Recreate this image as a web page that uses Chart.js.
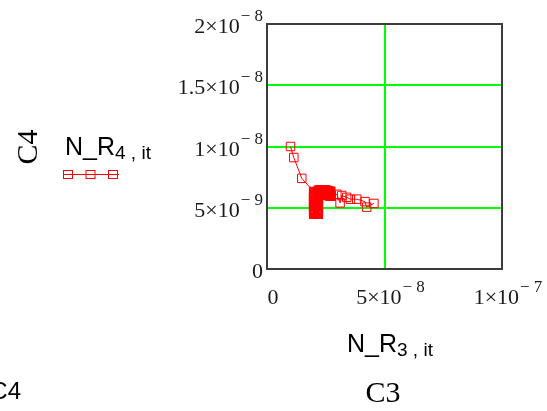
<!DOCTYPE html>
<html>
<head>
<meta charset="utf-8">
<script src="https://cdn.jsdelivr.net/npm/chart.js@4"></script>
<style>
  html, body { margin: 0; padding: 0; background: #fff; }
  canvas { display: block; }
</style>
</head>
<body>
<canvas id="plot" width="547" height="411"></canvas>
<script>
// iteration values N_R3,it (x) and N_R4,it (y)
const nr3 = [10.0e-9, 11.4e-9, 14.8e-9,
  20.0e-9, 21.7e-9, 21.7e-9, 20.0e-9, 20.0e-9, 21.7e-9, 21.7e-9, 20.0e-9, 20.0e-9, 21.7e-9,
  21.7e-9, 20.0e-9, 20.0e-9, 21.7e-9, 21.7e-9, 20.0e-9, 20.0e-9, 21.7e-9, 21.7e-9, 20.0e-9,
  20.0e-9, 21.7e-9, 21.7e-9, 20.0e-9, 20.0e-9, 21.7e-9, 21.7e-9, 20.0e-9, 20.0e-9, 21.7e-9,
  21.7e-9, 20.0e-9, 20.0e-9, 21.7e-9, 21.7e-9, 20.0e-9, 20.0e-9, 21.7e-9,
  22.0e-9, 22.5e-9, 23.0e-9, 23.5e-9, 24.0e-9, 24.5e-9, 25.0e-9, 25.5e-9, 26.0e-9, 26.5e-9, 27.0e-9,
  27.2e-9, 26.7e-9, 26.2e-9, 25.7e-9, 25.2e-9, 24.7e-9, 24.2e-9, 23.7e-9, 23.2e-9, 22.7e-9, 22.2e-9,
  29.7e-9, 31.1e-9, 31.8e-9, 33.9e-9, 35.5e-9, 38.2e-9, 41.7e-9, 42.4e-9, 45.5e-9];
const nr4 = [10.0e-9, 9.1e-9, 7.4e-9,
  6.3e-9, 6.3e-9, 6.2e-9, 6.2e-9, 6.1e-9, 6.1e-9, 6.0e-9, 6.0e-9, 5.9e-9, 5.9e-9,
  5.8e-9, 5.8e-9, 5.7e-9, 5.7e-9, 5.6e-9, 5.6e-9, 5.5e-9, 5.5e-9, 5.4e-9, 5.4e-9,
  5.3e-9, 5.3e-9, 5.2e-9, 5.2e-9, 5.1e-9, 5.1e-9, 5.0e-9, 5.0e-9, 4.9e-9, 4.9e-9,
  4.8e-9, 4.8e-9, 4.7e-9, 4.7e-9, 4.6e-9, 4.6e-9, 4.5e-9, 4.5e-9,
  6.4e-9, 6.42e-9, 6.45e-9, 6.45e-9, 6.44e-9, 6.42e-9, 6.4e-9, 6.38e-9, 6.35e-9, 6.32e-9, 6.3e-9,
  5.97e-9, 6.0e-9, 6.03e-9, 6.05e-9, 6.08e-9, 6.1e-9, 6.12e-9, 6.15e-9, 6.18e-9, 6.2e-9, 6.22e-9,
  6.1e-9, 5.4e-9, 6.0e-9, 5.85e-9, 5.7e-9, 5.7e-9, 5.5e-9, 5.05e-9, 5.35e-9];

const xTickValues = [0, 5e-8, 1e-7];
const xTickMant = ['0', '5×10', '1×10'];
const xTickExp = ['', '− 8', '− 7'];
const yTickValues = [0, 5e-9, 1e-8, 1.5e-8, 2e-8];
const yTickMant = ['0', '5×10', '1×10', '1.5×10', '2×10'];
const yTickExp = ['', '− 9', '− 8', '− 8', '− 8'];

const red = '#ff0000';
const green = '#00ff00';
const serif = '"Liberation Serif", "Times New Roman", serif';
const sans = '"Liberation Sans", Arial, sans-serif';

// mantissa with raised exponent, like Mathcad's 5×10^-8
function powWidth(ctx, mant, exp) {
  ctx.font = '22px ' + serif;
  let w = ctx.measureText(mant).width;
  if (exp) {
    ctx.font = '17px ' + serif;
    w += 1 + ctx.measureText(exp).width;
  }
  return w;
}
function drawPow(ctx, mant, exp, left, base) {
  ctx.textAlign = 'left';
  ctx.textBaseline = 'alphabetic';
  ctx.font = '22px ' + serif;
  ctx.fillText(mant, left, base);
  if (exp) {
    const mw = ctx.measureText(mant).width;
    ctx.font = '17px ' + serif;
    ctx.fillText(exp, left + mw + 1, base - 12);
  }
}
// N_R with subscript
function drawSub(ctx, main, sub, left, base) {
  ctx.textAlign = 'left';
  ctx.textBaseline = 'alphabetic';
  ctx.font = '25px ' + sans;
  ctx.fillText(main, left, base);
  const w = ctx.measureText(main).width;
  ctx.font = '19px ' + sans;
  ctx.fillText(sub, left + w, base + 4);
}

const mathcadText = {
  id: 'mathcadText',
  afterDraw(chart) {
    const ctx = chart.ctx;
    const xs = chart.scales.x, ys = chart.scales.y;
    const a = chart.chartArea;
    ctx.save();
    ctx.strokeStyle = '#3c3c3c';
    ctx.lineWidth = 2;
    ctx.strokeRect(a.left, a.top, a.right - a.left, a.bottom - a.top);

    ctx.fillStyle = '#1a1a1a';
    yTickValues.forEach((v, i) => {
      const py = ys.getPixelForValue(v);
      const w = powWidth(ctx, yTickMant[i], yTickExp[i]);
      drawPow(ctx, yTickMant[i], yTickExp[i], 263 - w, py + 9);
    });
    xTickValues.forEach((v, i) => {
      const px = xs.getPixelForValue(v);
      const w = powWidth(ctx, xTickMant[i], xTickExp[i]);
      drawPow(ctx, xTickMant[i], xTickExp[i], px + 6 - w / 2, 304);
    });

    ctx.fillStyle = '#000';
    drawSub(ctx, 'N_R', '3 , it', 347, 352);
    drawSub(ctx, 'N_R', '4 , it', 65, 155);

    ctx.font = '30px ' + serif;
    ctx.textAlign = 'center';
    ctx.textBaseline = 'alphabetic';
    ctx.fillText('C3', 383, 402);

    ctx.save();
    ctx.translate(37, 147);
    ctx.rotate(-Math.PI / 2);
    ctx.font = '30px ' + serif;
    ctx.fillText('C4', 0, 0);
    ctx.restore();

    ctx.font = '24px ' + sans;
    ctx.textAlign = 'right';
    ctx.fillText('C4', 21, 399);

    // legend sample
    ctx.strokeStyle = red;
    ctx.lineWidth = 1;
    ctx.beginPath();
    ctx.moveTo(63, 174.5);
    ctx.lineTo(119, 174.5);
    ctx.stroke();
    [68, 90.5, 113].forEach(cx => {
      ctx.strokeRect(cx - 4.5, 170.5, 9, 8);
    });
    ctx.restore();
  }
};

const ctx = document.getElementById('plot').getContext('2d');
new Chart(ctx, {
  type: 'scatter',
  data: {
    datasets: [{
      label: 'N_R4,it',
      data: nr3.map((x, i) => ({ x: x, y: nr4[i] })),
      showLine: true,
      borderColor: red,
      borderWidth: 1,
      pointStyle: 'rect',
      pointRadius: 6,
      pointBorderColor: red,
      pointBackgroundColor: 'rgba(0,0,0,0)',
      // the overlapping cluster points print heavier, as in the original
      pointBorderWidth: c => (c.dataIndex >= 3 && c.dataIndex < 63) ? 1.6 : 1
    }]
  },
  options: {
    responsive: false,
    animation: false,
    layout: { padding: { left: 267, top: 24, right: 45, bottom: 142 } },
    plugins: { legend: { display: false }, tooltip: { enabled: false } },
    scales: {
      x: {
        type: 'linear', min: 0, max: 1e-7,
        ticks: { display: false, stepSize: 5e-8 },
        grid: { color: c => c.tick.value === 0 ? 'rgba(0,0,0,0)' : green, lineWidth: 2, drawTicks: false },
        border: { display: false }
      },
      y: {
        type: 'linear', min: 0, max: 2e-8,
        ticks: { display: false, stepSize: 5e-9 },
        grid: { color: c => (c.tick.value === 0 || c.tick.value >= 2e-8) ? 'rgba(0,0,0,0)' : green, lineWidth: 2, drawTicks: false },
        border: { display: false }
      }
    }
  },
  plugins: [mathcadText]
});
</script>
</body>
</html>
